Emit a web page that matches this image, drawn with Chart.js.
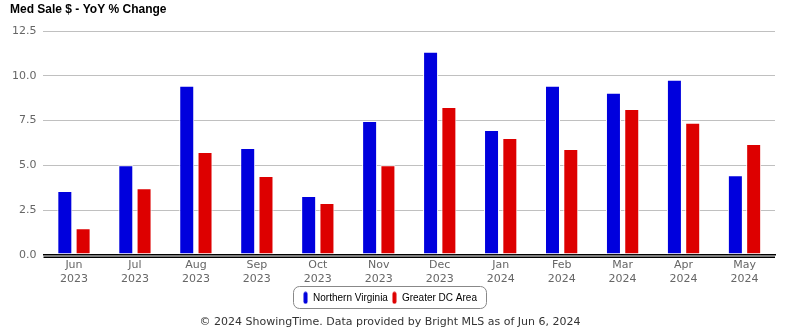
<!DOCTYPE html>
<html><head><meta charset="utf-8">
<script src="https://cdn.jsdelivr.net/npm/chart.js@4/dist/chart.umd.min.js"></script>
<style>html,body{margin:0;padding:0;background:#fff;overflow:hidden}</style>
</head><body>
<canvas id="c" width="785" height="330"></canvas>
<script>
const categories = [["Jun","2023"],["Jul","2023"],["Aug","2023"],["Sep","2023"],["Oct","2023"],["Nov","2023"],["Dec","2023"],["Jan","2024"],["Feb","2024"],["Mar","2024"],["Apr","2024"],["May","2024"]];
const northernVirginia = [3.56,5.00,9.44,5.97,3.28,7.48,11.34,6.97,9.44,9.05,9.78,4.45];
const greaterDC = [1.48,3.72,5.74,4.40,2.89,5.01,8.26,6.53,5.91,8.15,7.37,6.19];
const seriesNames = ["Northern Virginia","Greater DC Area"];
const yTicks = [0,2.5,5,7.5,10,12.5];
const titleText = "Med Sale $ - YoY % Change";
const footerText = "\u00A9 2024 ShowingTime. Data provided by Bright MLS as of Jun 6, 2024";

const BLUE = "#0000dd", RED = "#dd0000";

function pill(color){
  const c = document.createElement("canvas");
  c.width = 5; c.height = 13;
  const x = c.getContext("2d");
  x.fillStyle = color;
  x.beginPath();
  x.roundRect(0.5,0.5,4,12,2);
  x.fill();
  return c;
}

const extras = {
  id: "extras",
  afterDraw(chart){
    const ctx = chart.ctx, a = chart.chartArea, y = chart.scales.y.getPixelForValue(0);
    ctx.save();
    ctx.strokeStyle = "#000"; ctx.lineWidth = 1.5;
    ctx.beginPath(); ctx.moveTo(a.left, y+2.5); ctx.lineTo(a.right, y+2.5); ctx.stroke();
    ctx.fillStyle = "#000";
    ctx.font = "bold 12px 'Liberation Sans', Arial, sans-serif";
    ctx.textBaseline = "middle"; ctx.textAlign = "left";
    ctx.fillText(titleText, 10, 10);
    const boxes = chart.legend.legendHitBoxes;
    if (boxes && boxes.length){
      let l = Infinity, r = -Infinity, t = Infinity, b = -Infinity;
      boxes.forEach(h => { l = Math.min(l,h.left); r = Math.max(r,h.left+h.width); t = Math.min(t,h.top); b = Math.max(b,h.top+h.height); });
      ctx.strokeStyle = "#888"; ctx.lineWidth = 1;
      ctx.beginPath();
      ctx.roundRect(Math.round(l-10)+0.5, Math.round(t-7)+0.5, Math.round(r-l+19), Math.round(b-t+12), 6);
      ctx.stroke();
    }
    ctx.restore();
  }
};

new Chart(document.getElementById("c"), {
  type: "bar",
  data: {
    labels: categories,
    datasets: [
      {label: seriesNames[0], data: northernVirginia, backgroundColor: BLUE, borderColor: "#fff", borderWidth: 1, borderSkipped: false},
      {label: seriesNames[1], data: greaterDC, backgroundColor: RED, borderColor: "#fff", borderWidth: 1, borderSkipped: false}
    ]
  },
  options: {
    responsive: false,
    devicePixelRatio: 1,
    animation: false,
    categoryPercentage: 0.6,
    barPercentage: 0.82,
    layout: {padding: {left: 5, right: 10, top: 31, bottom: 0}},
    plugins: {
      tooltip: {enabled: false},
      title: {display: false},
      subtitle: {display: true, position: "bottom", text: footerText, color: "#333",
        font: {family: "'DejaVu Sans', sans-serif", size: 11, weight: "normal"},
        padding: {top: 3, bottom: 1}},
      legend: {position: "bottom",
        labels: {usePointStyle: true, boxWidth: 5, boxHeight: 13, padding: 4, color: "#000",
          font: {family: "'Liberation Sans Narrow', 'Liberation Sans', Arial, sans-serif", size: 10},
          generateLabels(chart){
            return chart.data.datasets.map((d,i)=>({text: d.label, pointStyle: pill(d.backgroundColor), fillStyle: d.backgroundColor, strokeStyle: d.backgroundColor, lineWidth: 0, datasetIndex: i, hidden: false}));
          }}}
    },
    scales: {
      x: {
        grid: {display: false, drawTicks: false},
        border: {display: true, color: "#000", width: 1.5},
        ticks: {color: "#666", padding: 3, font: {family: "'DejaVu Sans', sans-serif", size: 11, lineHeight: 1.27}, maxRotation: 0, autoSkip: false}
      },
      y: {
        min: 0, max: 12.5,
        afterBuildTicks(s){ s.ticks = yTicks.map(v=>({value:v})); },
        grid: {color: "#c0c0c0", drawTicks: false},
        border: {display: false},
        ticks: {color: "#666", padding: 7, font: {family: "'DejaVu Sans', sans-serif", size: 11},
          callback: v => Number(v).toFixed(1)}
      }
    }
  },
  plugins: [extras]
});
</script>
</body></html>
